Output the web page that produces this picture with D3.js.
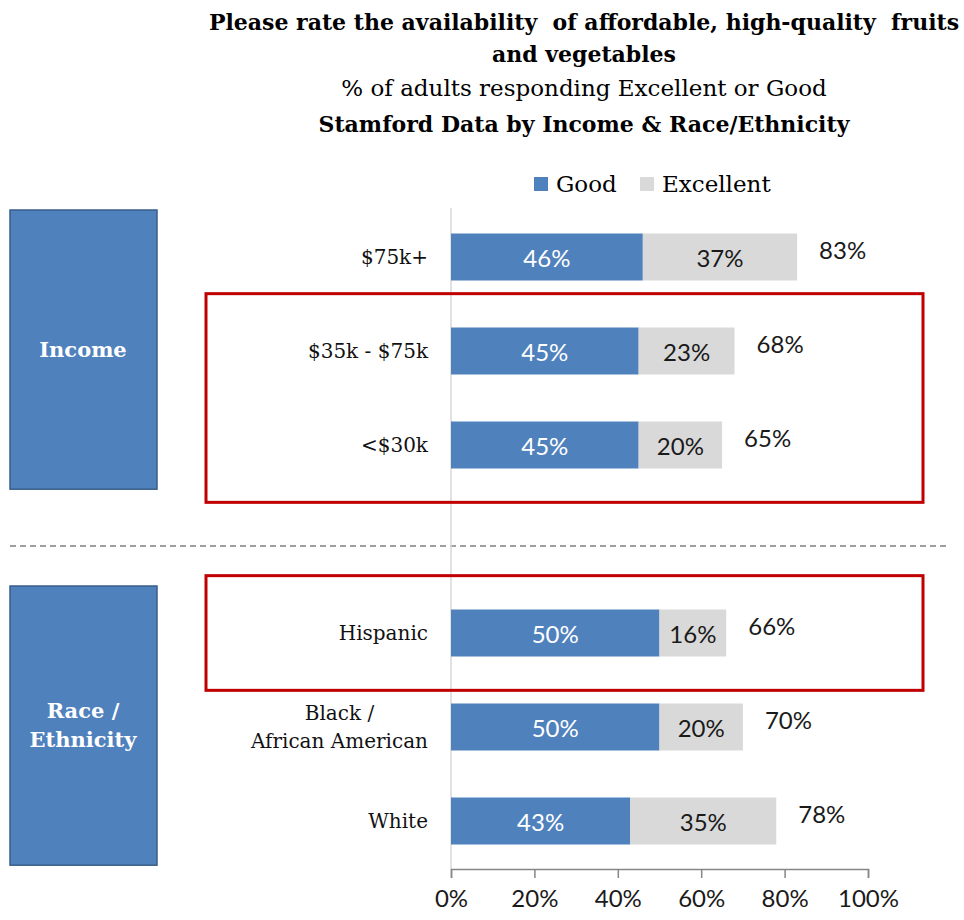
<!DOCTYPE html>
<html lang="en">
<head>
<meta charset="UTF-8">
<title>Fruits and vegetables availability</title>
<script src="https://cdn.jsdelivr.net/npm/d3@7"></script>
<style>
	body { margin: 0; background: #fff; }
	svg text { font-family: "DejaVu Serif", serif; }
	svg text.num { font-family: Lato, "Open Sans", sans-serif; }
</style>
</head>
<body>
<div id="viz"></div>
<script>
// data
var categories = ["$75k+", "$35k - $75k", "<$30k", "Hispanic", "Black /\nAfrican American", "White"];
var groups = ["Income", "Income", "Income", "Race", "Race", "Race"];
var good = [46, 45, 45, 50, 50, 43];
var excellent = [37, 23, 20, 16, 20, 35];
var totals = [83, 68, 65, 66, 70, 78];
var highlighted = [["$35k - $75k", "<$30k"], ["Hispanic"]];
var xTicks = [0, 20, 40, 60, 80, 100];
var seriesNames = ["Good", "Excellent"];
var groupLabels = [{key: "Income", lines: ["Income"]}, {key: "Race", lines: ["Race /", "Ethnicity"]}];

var width = 964, height = 920;
var blue = "#4F81BD", grey = "#D9D9D9";

var rows = categories.map(function (c, i) {
	return {cat: c, group: groups[i], good: good[i], exc: excellent[i], total: totals[i]};
});

// band domain with an empty slot between the two groups
var bandKeys = categories.slice(0, 3).concat(["gap"]).concat(categories.slice(3));

var x = d3.scaleLinear().domain([0, 100]).range([451, 868]);
var y = d3.scaleBand().domain(bandKeys).range([210, 868])
	.paddingInner(0.5).paddingOuter(0.25);

var svg = d3.select("#viz").append("svg")
	.attr("width", width).attr("height", height);

// titles
var titles = [
	{t: "Please rate the availability  of affordable, high-quality  fruits", y: 30, b: true, s: 22},
	{t: "and vegetables", y: 62, b: true, s: 22},
	{t: "% of adults responding Excellent or Good", y: 96, b: false, s: 23},
	{t: "Stamford Data by Income & Race/Ethnicity", y: 132, b: true, s: 22}
];
svg.selectAll(".title").data(titles).enter().append("text")
	.attr("class", "title")
	.attr("x", 584).attr("y", function (d) { return d.y; })
	.attr("text-anchor", "middle")
	.style("font-size", function (d) { return d.s + "px"; })
	.style("font-weight", function (d) { return d.b ? "bold" : "normal"; })
	.style("white-space", "pre")
	.text(function (d) { return d.t; });

// legend
var legend = svg.append("g").attr("transform", "translate(534,177)");
var lx = [0, 106];
seriesNames.forEach(function (s, i) {
	legend.append("rect").attr("x", lx[i]).attr("y", 0).attr("width", 14).attr("height", 14)
		.attr("fill", i === 0 ? blue : grey);
	legend.append("text").attr("x", lx[i] + 22).attr("y", 15)
		.style("font-size", "23px").text(s);
});

// dashed separator
svg.append("line")
	.attr("x1", 10).attr("x2", 950)
	.attr("y1", 546).attr("y2", 546)
	.attr("stroke", "#808080").attr("stroke-width", 1.5)
	.attr("stroke-dasharray", "6,4");

// group boxes
groupLabels.forEach(function (g) {
	var keys = rows.filter(function (r) { return r.group === g.key; }).map(function (r) { return r.cat; });
	var y0 = y(keys[0]) - y.step() * 0.25;
	var y1 = y(keys[keys.length - 1]) + y.bandwidth() + y.step() * 0.22;
	svg.append("rect")
		.attr("x", 10).attr("y", y0).attr("width", 147).attr("height", y1 - y0)
		.attr("fill", blue).attr("stroke", "#385D8A").attr("stroke-width", 1.5);
	var cy = (y0 + y1) / 2;
	var t = svg.append("text").attr("text-anchor", "middle")
		.attr("fill", "#fff").style("font-size", "21px").style("font-weight", "bold");
	g.lines.forEach(function (l, i) {
		t.append("tspan").attr("x", 83)
			.attr("y", cy + 7 + (i - (g.lines.length - 1) / 2) * 29)
			.text(l);
	});
});

// vertical axis line
svg.append("line")
	.attr("x1", x(0)).attr("x2", x(0))
	.attr("y1", 208).attr("y2", 869)
	.attr("stroke", "#D9D9D9").attr("stroke-width", 1.5);

// bars
var bars = svg.selectAll(".bar").data(rows).enter().append("g").attr("class", "bar");
bars.append("rect")
	.attr("x", x(0))
	.attr("y", function (d) { return y(d.cat); })
	.attr("width", function (d) { return x(d.good) - x(0); })
	.attr("height", y.bandwidth())
	.attr("fill", blue);
bars.append("rect")
	.attr("x", function (d) { return x(d.good); })
	.attr("y", function (d) { return y(d.cat); })
	.attr("width", function (d) { return x(d.good + d.exc) - x(d.good); })
	.attr("height", y.bandwidth())
	.attr("fill", grey);

var mid = function (d) { return y(d.cat) + y.bandwidth() / 2; };

bars.append("text").attr("class", "num")
	.attr("x", function (d) { return (x(0) + x(d.good)) / 2; })
	.attr("y", function (d) { return mid(d) + 10; })
	.attr("text-anchor", "middle").attr("fill", "#fff")
	.style("font-size", "24px")
	.text(function (d) { return d.good + "%"; });
bars.append("text").attr("class", "num")
	.attr("x", function (d) { return (x(d.good) + x(d.good + d.exc)) / 2; })
	.attr("y", function (d) { return mid(d) + 10; })
	.attr("text-anchor", "middle").attr("fill", "#1a1a1a")
	.style("font-size", "24px")
	.text(function (d) { return d.exc + "%"; });
bars.append("text").attr("class", "num")
	.attr("x", function (d) { return x(d.total) + 22; })
	.attr("y", function (d) { return mid(d) + 2; })
	.attr("fill", "#1a1a1a")
	.style("font-size", "24px")
	.text(function (d) { return d.total + "%"; });

// category labels, wrapped lines centred on each other, right edge at 428
bars.each(function (d) {
	var lines = d.cat.split("\n");
	var t = d3.select(this).append("text").attr("fill", "#111").style("font-size", "20px");
	var spans = lines.map(function (l, i) {
		return t.append("tspan")
			.attr("y", mid(d) + 7 + (i - (lines.length - 1) / 2) * 28)
			.text(l);
	});
	var widths = spans.map(function (s) { return s.node().getComputedTextLength(); });
	var maxW = d3.max(widths);
	spans.forEach(function (s) {
		s.attr("x", 428 - maxW / 2).attr("text-anchor", "middle");
	});
});

// x axis
var xAxis = d3.axisBottom(x).tickValues(xTicks)
	.tickFormat(function (d) { return d + "%"; })
	.tickSizeInner(9).tickSizeOuter(9).tickPadding(12);
var gx = svg.append("g").attr("transform", "translate(0,869)").call(xAxis);
gx.select(".domain").attr("stroke", "#868686").attr("stroke-width", 1.5);
gx.selectAll(".tick line").attr("stroke", "#868686").attr("stroke-width", 1.5);
gx.selectAll(".tick text").attr("class", "num").attr("fill", "#1a1a1a")
	.style("font-size", "24px");

// red highlight boxes
highlighted.forEach(function (h) {
	var y0 = y(h[0]) - y.step() * 0.36;
	var y1 = y(h[h.length - 1]) + y.bandwidth() + y.step() * 0.36;
	svg.append("rect")
		.attr("x", 206).attr("y", y0).attr("width", 717).attr("height", y1 - y0)
		.attr("fill", "none").attr("stroke", "#C00000").attr("stroke-width", 3);
});
</script>
</body>
</html>
